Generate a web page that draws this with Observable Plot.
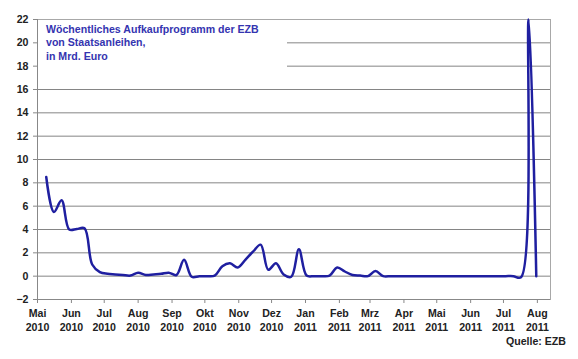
<!DOCTYPE html>
<html><head><meta charset="utf-8">
<script src="https://cdn.jsdelivr.net/npm/d3@7"></script>
<script src="https://cdn.jsdelivr.net/npm/@observablehq/plot@0.6"></script>
<style>
body{margin:0;background:#fff;}
#wrap{position:relative;width:578px;height:359px;font-family:"Liberation Sans",Arial,sans-serif;overflow:hidden;}
#title{position:absolute;left:38px;top:20px;width:249px;height:50px;background:#fff;color:#3434b0;font-weight:bold;font-size:10.6px;line-height:13.3px;padding:3px 0 0 8px;box-sizing:border-box;white-space:nowrap;}
#source{position:absolute;right:12px;top:335px;font-weight:bold;font-size:10.6px;line-height:12px;color:#222;}
</style></head>
<body>
<div id="wrap"><div id="chart"></div>
<div id="title">Wöchentliches Aufkaufprogramm der EZB<br>von Staatsanleihen,<br>in Mrd. Euro</div>
<div id="source">Quelle: EZB</div>
</div>
<script>
// weekly purchases (Mrd. Euro), first week starting 2010-05-09
const firstWeek = "2010-05-09";
const values = [
  8.5, 5.5, 6.5, 4.0, 4.05, 4.1, 1.0, 0.35, 0.2, 0.15,
  0.1, 0.05, 0.3, 0.1, 0.15, 0.2, 0.3, 0.1, 1.4, -0.05,
  0, 0, 0.05, 0.85, 1.1, 0.75, 1.4, 2.1, 2.7, 0.55,
  1.1, 0.15, -0.05, 2.3, 0.05, 0, 0, 0.05, 0.75, 0.4,
  0.1, 0.05, 0, 0.45, 0, 0, 0, 0, 0, 0,
  0, 0, 0, 0, 0, 0, 0, 0, 0, 0,
  0, 0, -0.1, 22, 0
];
const monthTicks = ["2010-05-01","2010-06-01","2010-07-01","2010-08-01","2010-09-01","2010-10-01","2010-11-01","2010-12-01","2011-01-01","2011-02-01","2011-03-01","2011-04-01","2011-05-01","2011-06-01","2011-07-01","2011-08-01"];
const monthLabels = ["Mai\n2010","Jun\n2010","Jul\n2010","Aug\n2010","Sep\n2010","Okt\n2010","Nov\n2010","Dez\n2010","Jan\n2011","Feb\n2011","Mrz\n2011","Apr\n2011","Mai\n2011","Jun\n2011","Jul\n2011","Aug\n2011"];
const yTicks = [-2, 0, 2, 4, 6, 8, 10, 12, 14, 16, 18, 20, 22];
const xDomain = ["2010-05-01", "2011-08-13"];

const start = new Date(firstWeek);
const data = values.map((v, i) => ({date: d3.utcDay.offset(start, 7 * i), value: v}));
const tickDates = monthTicks.map(s => new Date(s));
const labelMap = new Map(tickDates.map((d, i) => [d.getTime(), monthLabels[i]]));

const chart = Plot.plot({
  width: 578, height: 359,
  marginLeft: 37, marginRight: 28, marginTop: 19, marginBottom: 60,
  style: {fontFamily: "'Liberation Sans', Arial, sans-serif", fontSize: "10.6px", fontWeight: "bold", color: "#222", background: "#fff"},
  x: {type: "utc", domain: xDomain.map(s => new Date(s))},
  y: {domain: [-2, 22]},
  marks: [
    Plot.gridY(yTicks, {stroke: "#858585", strokeOpacity: 1}),
    Plot.frame({stroke: "#a8a8a8"}),
    Plot.ruleX([new Date(xDomain[0])], {stroke: "#888"}),
    Plot.ruleY([-2], {stroke: "#888"}),
    Plot.axisY(yTicks, {tickSize: 4, tickPadding: 5, stroke: "#888", fill: "#222", label: null}),
    Plot.axisX(tickDates, {tickSize: 4, tickPadding: 4, stroke: "#888", fill: "#222", label: null, lineHeight: 1.3,
      tickFormat: d => labelMap.get(d.getTime())}),
    Plot.line(data, {x: "date", y: "value", curve: "catmull-rom", stroke: "#1f1fa0", strokeWidth: 2.5})
  ]
});
document.getElementById("chart").appendChild(chart);
</script>
</body></html>
